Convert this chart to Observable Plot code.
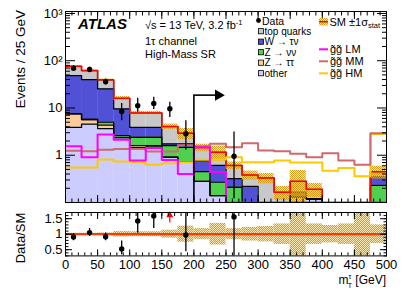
<!DOCTYPE html>
<html><head><meta charset="utf-8">
<script src="https://cdn.jsdelivr.net/npm/d3@7"></script>
<script src="https://cdn.jsdelivr.net/npm/@observablehq/plot@0.6"></script>
<style>
body{margin:0;background:#fff;font-family:"Liberation Sans",Arial,sans-serif;}
#wrap{position:relative;width:407px;height:292px;overflow:hidden;}
#wrap svg.panel{position:absolute;left:0;}
</style></head><body>
<svg width="0" height="0" style="position:absolute">
  <defs>
    <pattern id="hatch" width="2" height="2" patternUnits="userSpaceOnUse">
      <rect x="0" y="0" width="1" height="1" fill="#d29e1e"/>
      <rect x="1" y="1" width="1" height="1" fill="#d29e1e"/>
      <rect x="1" y="0" width="1" height="1" fill="#f2c850" fill-opacity="0.45"/>
      <rect x="0" y="1" width="1" height="1" fill="#f2c850" fill-opacity="0.45"/>
    </pattern>
  </defs>
</svg>
<div id="wrap"></div>
<script>
// ---------- data (Events / 25 GeV) ----------
const binLow = [0,25,50,75,100,125,150,175,200,225,250,275,300,325,350,375,400,425,450,475];
const binWidth = 25;
const xMax = 500;
const other     = [3.9, 4.55, 3.66, 2.37, 1.45, 1.5, 0.91, 0.72, 0.28, 0.14, 0, 0, 0.08, 0, 0.13, 0.12, 0.02, 0.02, 0.02, 0];
const zTauTau   = [3.6, 1.15, 0.69, 0, 0.15, 0.1, 0, 0, 0, 0, 0, 0, 0, 0, 0, 0, 0, 0, 0, 0];
const zNuNu     = [0, 0, 0.68, 0.23, 0.8, 0.8, 0.69, 0.75, 0.17, 0.13, 0.21, 0.05, 0, 0, 0, 0, 0, 0, 0, 0.23];
const wTauNu    = [40.9, 34.1, 20.4, 7.0, 1.5, 1.5, 0.14, 0.27, 0.32, 0.34, 0.11, 0.17, 0, 0, 0.035, 0, 0, 0, 0, 0.12];
const topQuarks = [27.6, 22, 13.9, 6.4, 3.96, 3.96, 2.31, 1.18, 0.68, 0.55, 0.29, 0.16, 0.25, 0.165, 0.115, 0.07, 0.02, 0.02, 0.02, 0.10];
const smRelUnc  = [0.03, 0.03, 0.04, 0.09, 0.08, 0.08, 0.13, 0.26, 0.18, 0.35, 0.18, 0.22, 0.25, 0.33, 0.7, 0.33, 0.28, 0.33, 0.7, 0.3];
const sigLM = [1.55, 0.91, 2.74, 2.12, 0.77, 1.42, 0.79, 0.40, 1.48, 0.44, 0, 0, 0, 0, 0, 0, 0, 0, 0, 0];
const sigMM = [1.25, 1.22, 1.3, 1.36, 1.36, 1.2, 1.2, 1.62, 1.55, 1.74, 1.48, 1.79, 1.26, 1.22, 1.07, 0.91, 1.10, 0.77, 0.63, 2.92];
const sigHM = [0.55, 0.55, 0.81, 0.74, 0.71, 0.63, 0.68, 0.71, 0.80, 0.81, 0.91, 0.71, 0.71, 0.77, 0.70, 0.70, 0.47, 0.54, 0.36, 2.8];
const dataVals = [69, 65, 36, 8.4, 11.2, 12.5, 9.6, 2.85, null, null, 0.95, null, null, null, null, null, null, null, null, null];
const dataLo   = [60, 57, 31, 5.4, 8.1, 9.3, 6.3, 1.27, null, null, 0.12, null, null, null, null, null, null, null, null, null];
const dataHi   = [78, 73, 41, 12.5, 16, 16.8, 13.2, 5.4, null, null, 3.1, null, null, null, null, null, null, null, null, null];
const cutValue = [200];     // GeV, signal-region cut
const arrowLevel = [18.7];  // events, height of the cut arrow
const arrowEnd = [238];     // GeV
const yTicks = [1, 10, 100, 1000];
const yTickLabels = ["1", "10", "10²", "10³"];
const xTicks = [0, 50, 100, 150, 200, 250, 300, 350, 400, 450, 500];
const ratioTicks = [0.5, 1, 1.5];
const ratioTickLabels = ["0.5", "1", "1.5"];
const legendBkg = ["top quarks", "W → τν", "Z → νν", "Z → ττ", "other"];
const legendSig = ["g̃g̃ LM", "g̃g̃ MM", "g̃g̃ HM"];

// ---------- styles ----------
const FONT = "Liberation Sans, Arial, Helvetica, sans-serif";
const colors = {other:"#ccccff", ztt:"#ffcc99", znn:"#4fd04f", wtn:"#5151d6", top:"#c8c8c8"};
const sigColors = ["#ff00ff", "#d06a6a", "#ffc800"];
const floor = 0.01;

// ---------- derived tables ----------
const comps = [
  {vals: other, color: colors.other},
  {vals: zTauTau, color: colors.ztt},
  {vals: zNuNu, color: colors.znn},
  {vals: wTauNu, color: colors.wtn},
  {vals: topQuarks, color: colors.top}
];
let cum = binLow.map(() => 0);
const layers = comps.map(c => {
  const lo = cum.slice();
  cum = cum.map((v, i) => v + c.vals[i]);
  return {...c, lo, hi: cum.slice()};
});
const sm = cum;
const stepPts = vals => binLow.map((x, i) => ({x, y: Math.max(vals[i], floor)}))
  .concat([{x: xMax, y: Math.max(vals[vals.length - 1], floor)}]);
const sigPts = vals => binLow.map((x, i) => ({x, y: Math.max(vals[i], 0.1)}))
  .concat([{x: xMax, y: Math.max(vals[vals.length - 1], 0.1)}]);
const dataRows = binLow.map((x, i) => ({i, x: x + binWidth / 2, y: dataVals[i], lo: dataLo[i], hi: dataHi[i]}))
  .filter(d => d.y != null);
const bandRows = binLow.map((x, i) => ({x1: x, x2: x + binWidth,
  y1: Math.max(sm[i] * (1 - smRelUnc[i]), floor), y2: Math.max(sm[i] * (1 + smRelUnc[i]), floor),
  r1: 1 - smRelUnc[i], r2: 1 + smRelUnc[i]}));

const yMinor = [];
for (const d of [0.1, 1, 10, 100]) for (let k = 2; k <= 9; k++) yMinor.push(k * d);
const xMinor = d3.range(0, 501, 10);
const ratioMinor = d3.range(0.3, 1.71, 0.1);

// ---------- main panel ----------
const mainMarks = [];
for (const L of layers) {
  mainMarks.push(Plot.rectY(binLow.map((x, i) => ({x1: x, x2: x + binWidth,
    y1: Math.max(L.lo[i], floor), y2: Math.max(L.hi[i], floor)})),
    {x1: "x1", x2: "x2", y1: "y1", y2: "y2", fill: L.color, clip: true}));
}
for (const L of layers) {
  mainMarks.push(Plot.line(stepPts(L.hi), {x: "x", y: "y", curve: "step-after", stroke: "black", strokeWidth: 1.3, clip: true}));
}
mainMarks.push(Plot.rectY(bandRows, {x1: "x1", x2: "x2", y1: "y1", y2: "y2", fill: "url(#hatch)", clip: true}));
mainMarks.push(Plot.line(stepPts(sm), {x: "x", y: "y", curve: "step-after", stroke: "#ff0000", strokeWidth: 1.5, clip: true}));
[sigHM, sigMM, sigLM].forEach((s, k) => {
  const col = [sigColors[2], sigColors[1], sigColors[0]][k];
  mainMarks.push(Plot.line(sigPts(s), {x: "x", y: "y", curve: "step-after", stroke: col, strokeWidth: 2, clip: true}));
});
// cut arrow
mainMarks.push(Plot.ruleX(cutValue, {x: d => d, y1: floor, y2: arrowLevel[0], stroke: "black", strokeWidth: 1.6, clip: true}));
mainMarks.push(Plot.ruleY(arrowLevel, {y: d => d, x1: cutValue[0], x2: arrowEnd[0] - 3, stroke: "black", strokeWidth: 1.6}));
mainMarks.push(Plot.dot(arrowLevel, {x: arrowEnd[0], y: d => d, symbol: "triangle", rotate: 90, r: 4.2, fill: "black", stroke: null}));
// data
mainMarks.push(Plot.ruleX(dataRows, {x: "x", y1: "lo", y2: "hi", stroke: "black", strokeWidth: 1.3, clip: true}));
mainMarks.push(Plot.dot(dataRows, {x: "x", y: "y", r: 2.7, fill: "black", stroke: null}));
// frame & axes
mainMarks.push(Plot.frame({stroke: "black", strokeWidth: 1}));
mainMarks.push(Plot.axisY({anchor: "left", ticks: yTicks, tickSize: -10, tickPadding: 13, fontSize: 13,
  tickFormat: d => yTickLabels[yTicks.indexOf(d)], label: null}));
mainMarks.push(Plot.axisY({anchor: "left", ticks: yMinor, tickSize: -5, tickFormat: () => "", label: null}));
mainMarks.push(Plot.axisY({anchor: "right", ticks: yTicks, tickSize: -10, tickFormat: () => "", label: null}));
mainMarks.push(Plot.axisY({anchor: "right", ticks: yMinor, tickSize: -5, tickFormat: () => "", label: null}));
mainMarks.push(Plot.axisX({anchor: "bottom", ticks: xTicks, tickSize: -7, tickFormat: () => "", label: null}));
mainMarks.push(Plot.axisX({anchor: "bottom", ticks: xMinor, tickSize: -3.5, tickFormat: () => "", label: null}));
mainMarks.push(Plot.axisX({anchor: "top", ticks: xTicks, tickSize: -7, tickFormat: () => "", label: null}));
mainMarks.push(Plot.axisX({anchor: "top", ticks: xMinor, tickSize: -3.5, tickFormat: () => "", label: null}));

const main = Plot.plot({
  width: 407, height: 205, marginLeft: 65, marginRight: 21, marginTop: 11, marginBottom: 3,
  style: {fontFamily: FONT, background: "transparent", color: "black", overflow: "visible"},
  x: {domain: [0, xMax]},
  y: {type: "log", domain: [0.1, 1100]},
  marks: mainMarks
});
main.classList.add("panel");
main.style.top = "0px";

// ---------- ratio panel ----------
const ratioDomain = [0.3, 1.7];
const ratioRows = dataRows.map(d => ({x: d.x, r: d.y / sm[d.i], lo: d.lo / sm[d.i], hi: d.hi / sm[d.i]}));
const inRange = ratioRows.filter(d => d.r <= ratioDomain[1]);
const over = ratioRows.filter(d => d.r > ratioDomain[1]);
const ratio = Plot.plot({
  width: 407, height: 91, marginLeft: 65, marginRight: 21, marginTop: 11, marginBottom: 36.6,
  style: {fontFamily: FONT, background: "transparent", color: "black", overflow: "visible"},
  x: {domain: [0, xMax]},
  y: {domain: ratioDomain},
  marks: [
    Plot.rectY(bandRows, {x1: "x1", x2: "x2", y1: "r1", y2: "r2", fill: "url(#hatch)", clip: true}),
    Plot.ruleY([1], {stroke: "#ff3a00", strokeWidth: 2.2}),
    Plot.ruleX(inRange, {x: "x", y1: "lo", y2: "hi", stroke: "black", strokeWidth: 1.3, clip: true}),
    Plot.dot(inRange, {x: "x", y: "r", r: 2.7, fill: "black", stroke: null}),
    Plot.ruleX(over, {x: "x", y1: ratioDomain[1] - 0.34, y2: ratioDomain[1] - 0.1, stroke: "#ff0000", strokeWidth: 1.2}),
    Plot.dot(over, {x: "x", y: ratioDomain[1] - 0.09, symbol: "triangle", r: 2.6, fill: "#ff0000", stroke: null}),
    Plot.frame({stroke: "black", strokeWidth: 1}),
    Plot.axisY({anchor: "left", ticks: ratioTicks, tickSize: -7, tickPadding: 10, fontSize: 13,
      tickFormat: d => ratioTickLabels[ratioTicks.indexOf(d)], label: null}),
    Plot.axisY({anchor: "left", ticks: ratioMinor, tickSize: -3.5, tickFormat: () => "", label: null}),
    Plot.axisY({anchor: "right", ticks: ratioTicks, tickSize: -7, tickFormat: () => "", label: null}),
    Plot.axisY({anchor: "right", ticks: ratioMinor, tickSize: -3.5, tickFormat: () => "", label: null}),
    Plot.axisX({anchor: "bottom", ticks: xTicks, tickSize: -6, tickPadding: 10, fontSize: 13, tickFormat: d => String(d), label: null}),
    Plot.axisX({anchor: "bottom", ticks: xMinor, tickSize: -3, tickFormat: () => "", label: null}),
    Plot.axisX({anchor: "top", ticks: xTicks, tickSize: -6, tickFormat: () => "", label: null}),
    Plot.axisX({anchor: "top", ticks: xMinor, tickSize: -3, tickFormat: () => "", label: null})
  ]
});
ratio.classList.add("panel");
ratio.style.top = "201px";

const wrap = document.getElementById("wrap");
wrap.appendChild(main);
wrap.appendChild(ratio);

// ---------- annotations & legend (main svg) ----------
const g = d3.select(main).append("g").attr("font-family", FONT).attr("fill", "black").attr("text-anchor", "start");
g.append("text").attr("transform", "translate(24.5,10) rotate(-90)").attr("text-anchor", "end")
  .attr("font-size", 13.5).text("Events / 25 GeV");
g.append("text").attr("x", 78).attr("y", 29).attr("font-size", 15).attr("font-weight", "bold")
  .attr("font-style", "italic").text("ATLAS");
const t1 = g.append("text").attr("x", 145).attr("y", 29).attr("font-size", 11);
t1.append("tspan").text("√s = 13 TeV, 3.2 fb");
t1.append("tspan").attr("font-size", 7.5).attr("dy", -4).text("-1");
g.append("text").attr("x", 145).attr("y", 44.5).attr("font-size", 11).text("1τ channel");
g.append("text").attr("x", 145).attr("y", 57.5).attr("font-size", 11).text("High-Mass SR");

// left legend column
g.append("circle").attr("cx", 258.5).attr("cy", 20.5).attr("r", 2.4);
g.append("text").attr("x", 262).attr("y", 24.5).attr("font-size", 10.5).text("Data");
const bkgColors = [colors.top, colors.wtn, colors.znn, colors.ztt, colors.other];
legendBkg.forEach((lab, k) => {
  const cy = 31.2 + 10.5 * k;
  g.append("rect").attr("x", 258.5).attr("y", cy - 2.6).attr("width", 5).attr("height", 5.2)
    .attr("fill", bkgColors[k]).attr("stroke", "black").attr("stroke-width", 0.8);
  g.append("text").attr("x", 264.5).attr("y", cy + 3.6).attr("font-size", 10).text(lab);
});
// right legend column
g.append("rect").attr("x", 319).attr("y", 18).attr("width", 9).attr("height", 7.5).attr("fill", "url(#hatch)");
g.append("line").attr("x1", 319).attr("x2", 328).attr("y1", 21.7).attr("y2", 21.7).attr("stroke", "#ff0000").attr("stroke-width", 1.5);
const t2 = g.append("text").attr("x", 329.5).attr("y", 25.5).attr("font-size", 11);
t2.append("tspan").text("SM ±1σ");
t2.append("tspan").attr("font-size", 7.5).attr("dy", 2).text("stat");
legendSig.forEach((lab, k) => {
  const cy = 49.3 + 12 * k;
  g.append("line").attr("x1", 319).attr("x2", 328).attr("y1", cy).attr("y2", cy)
    .attr("stroke", sigColors[k]).attr("stroke-width", 2);
  g.append("text").attr("x", 330).attr("y", cy + 4).attr("font-size", 11).text(lab);
});

// ratio annotations
const gr = d3.select(ratio).append("g").attr("font-family", FONT).attr("fill", "black").attr("text-anchor", "start");
gr.append("text").attr("transform", "translate(25,37) rotate(-90)").attr("text-anchor", "middle")
  .attr("font-size", 13).text("Data/SM");
const xt = gr.append("text").attr("x", 386).attr("y", 83).attr("text-anchor", "end").attr("font-size", 12);
xt.append("tspan").text("m");
xt.append("tspan").attr("font-size", 7).attr("dy", -5).text("τ");
xt.append("tspan").attr("font-size", 7).attr("dx", -3.5).attr("dy", 9).text("T");
xt.append("tspan").attr("dy", -4).text(" [GeV]");
</script>
</body></html>
